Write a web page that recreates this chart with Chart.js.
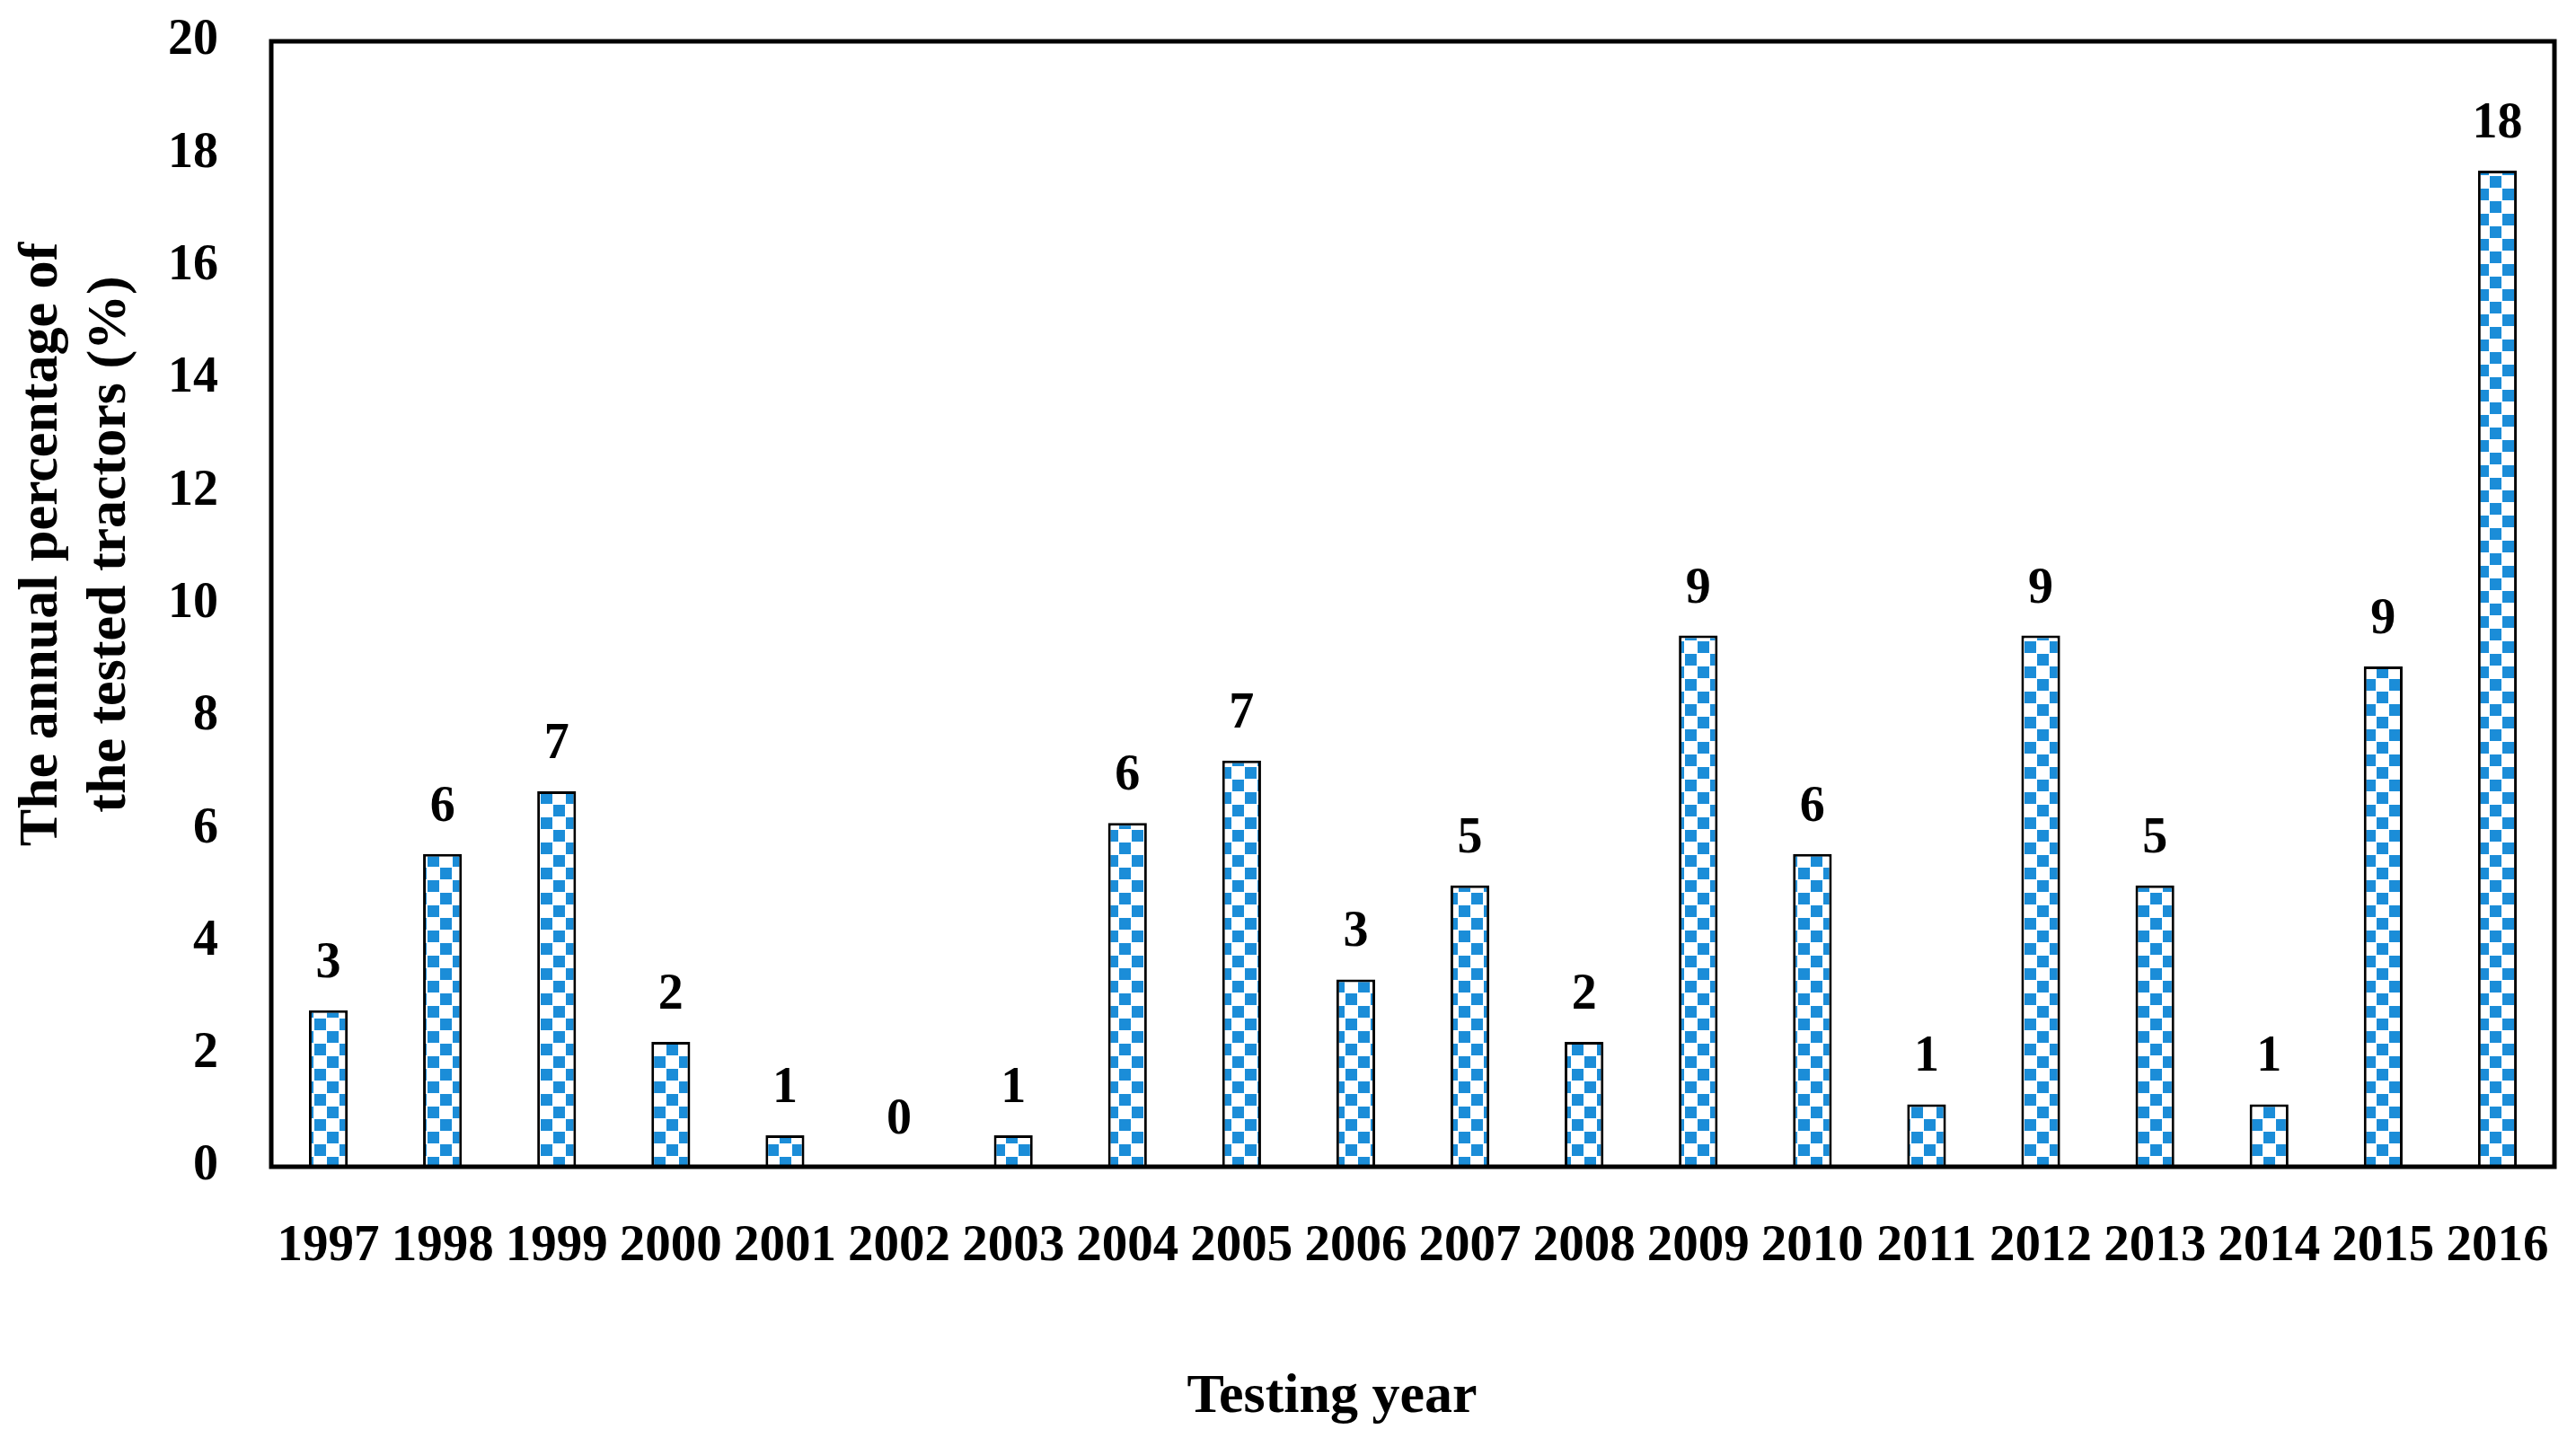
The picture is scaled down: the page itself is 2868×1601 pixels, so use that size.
<!DOCTYPE html>
<html>
<head>
<meta charset="utf-8">
<script src="https://cdn.jsdelivr.net/npm/chart.js@4/dist/chart.umd.min.js"></script>
<style>
  html, body { margin: 0; padding: 0; background: #fff; }
  #wrap { width: 2868px; height: 1601px; }
</style>
</head>
<body>
<div id="wrap"><canvas id="yearChart" width="2868" height="1601"></canvas></div>
<script>
// testing years and annual share of tested tractors (%)
const years = ["1997", "1998", "1999", "2000", "2001", "2002", "2003", "2004", "2005", "2006",
  "2007", "2008", "2009", "2010", "2011", "2012", "2013", "2014", "2015", "2016"];
const percentages = [2.78, 5.56, 6.67, 2.22, 0.56, 0, 0.56, 6.11, 7.22, 3.33,
  5.0, 2.22, 9.44, 5.56, 1.11, 9.44, 5.0, 1.11, 8.89, 17.7];
// rounded values printed above the bars
const barLabels = ["3", "6", "7", "2", "1", "0", "1", "6", "7", "3",
  "5", "2", "9", "6", "1", "9", "5", "1", "9", "18"];
const yTicks = [0, 2, 4, 6, 8, 10, 12, 14, 16, 18, 20];

const serif = "'Liberation Serif', 'Times New Roman', serif";
const blue = "#1b8dd8";

// checkerboard fill like the original bars
function checker() {
  const c = document.createElement("canvas");
  c.width = 28; c.height = 28;
  const g = c.getContext("2d");
  g.fillStyle = "#fff";
  g.fillRect(0, 0, 28, 28);
  g.fillStyle = blue;
  g.fillRect(0, 0, 13, 13);
  g.fillRect(14, 14, 13, 13);
  return g.createPattern(c, "repeat");
}

const boxAndText = {
  id: "boxAndText",
  afterDatasetsDraw(chart) {
    const ctx = chart.ctx;
    const a = chart.chartArea;
    ctx.save();
    // value labels
    ctx.fillStyle = "#000";
    ctx.font = "bold 56px " + serif;
    ctx.textAlign = "center";
    ctx.textBaseline = "alphabetic";
    chart.getDatasetMeta(0).data.forEach((bar, i) => {
      ctx.fillText(barLabels[i], bar.x, bar.y - 37);
    });
    // plot frame
    ctx.strokeStyle = "#000";
    ctx.lineWidth = 5;
    ctx.strokeRect(a.left, a.top, a.right - a.left, a.bottom - a.top);
    // axis titles
    ctx.font = "bold 62px " + serif;
    ctx.textBaseline = "middle";
    ctx.fillText("Testing year", 1483, 1556);
    ctx.translate(85, 606);
    ctx.rotate(-Math.PI / 2);
    ctx.fillText("The annual percentage of", 0, -38);
    ctx.fillText("the tested tractors (%)", 0, 38);
    ctx.restore();
  }
};

new Chart(document.getElementById("yearChart").getContext("2d"), {
  type: "bar",
  data: {
    labels: years,
    datasets: [{
      data: percentages,
      backgroundColor: checker(),
      borderColor: "#000",
      borderWidth: 3,
      categoryPercentage: 1,
      barPercentage: 0.34
    }]
  },
  options: {
    responsive: false,
    animation: false,
    devicePixelRatio: 1,
    layout: { padding: { left: 0, top: 46, right: 24, bottom: 0 } },
    plugins: { legend: { display: false }, tooltip: { enabled: false } },
    scales: {
      x: {
        grid: { display: false, drawTicks: false },
        border: { display: false },
        ticks: { color: "#000", font: { family: serif, size: 57, weight: "bold" }, padding: 55, maxRotation: 0, autoSkip: false },
        afterFit: (s) => { s.height = 302; s.paddingLeft = 0; s.paddingRight = 0; }
      },
      y: {
        min: 0, max: 20,
        afterBuildTicks: (s) => { s.ticks = yTicks.map(v => ({ value: v })); },
        grid: { display: false, drawTicks: false },
        border: { display: false },
        ticks: { color: "#000", font: { family: serif, size: 56, weight: "bold" }, padding: 59 },
        afterFit: (s) => { s.width = 302; s.paddingTop = 0; s.paddingBottom = 0; }
      }
    }
  },
  plugins: [boxAndText]
});
</script>
</body>
</html>
